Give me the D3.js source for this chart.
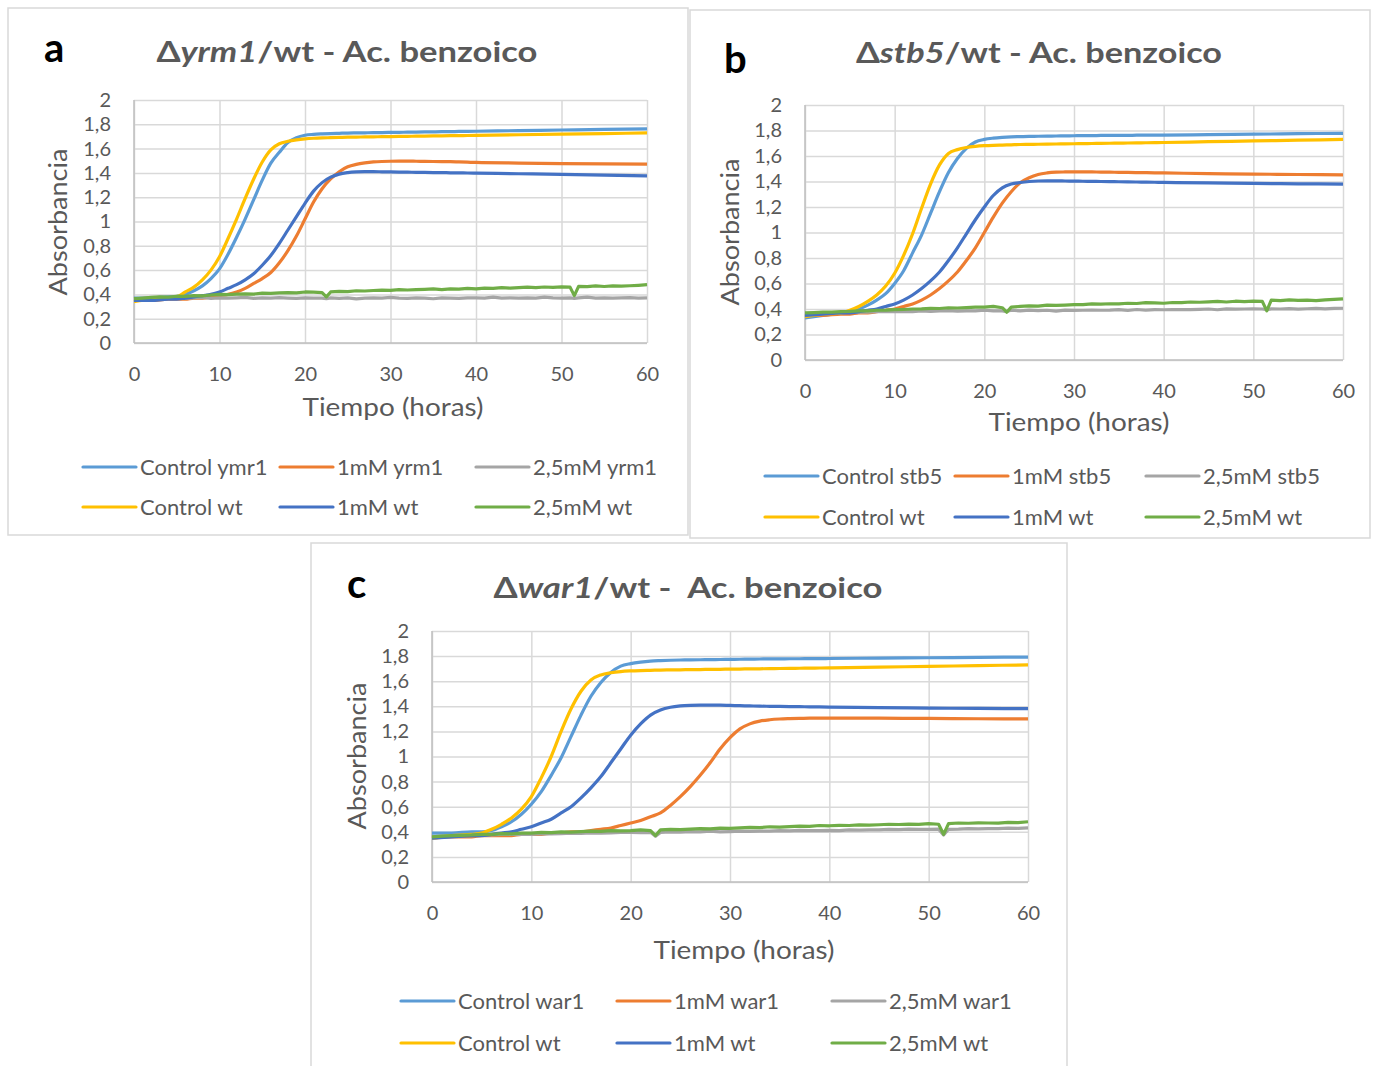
<!DOCTYPE html>
<meta charset="utf-8">
<head>
  <title>Ac. benzoico</title>
</head>
<body style="margin:0;background:#fff">
<style>
text { font-family: Lato, sans-serif; fill: #595959; }
.axis text { font-size: 20px; fill: #595959; }
.axis line { stroke: #d9d9d9; stroke-width: 1.5; }
.leg text { font-size: 22px; }
.title { font-size: 28px; font-weight: bold; white-space: pre; }
.letter { font-size: 40px; font-weight: bold; fill: #000; }
.atitle { font-size: 25px; }
</style>
<svg width="1375" height="1066"></svg>
<script src="https://d3js.org/d3.v7.min.js"></script>
<script>

// time grids (hours)
var hoursG = [0,2,4,5,6,7,8,9,10,11,12,13,14,15,16,17,18,19,20,21,22,23,24,25,26,27,28,29,30,31,32,33,34,35,36,37,38,39,40,45,50,55,60];
var hoursF = [0,1,2,3,4,5,6,7,8,9,10,11,12,13,14,15,16,17,18,19,20,21,22,22.5,23,24,25,26,27,28,29,30,31,32,33,34,35,36,37,38,39,40,41,42,43,44,45,46,47,48,49,50,51,51.5,52,53,54,55,56,57,58,59,60];

var xTicks = [0,10,20,30,40,50,60];
var yTicks = [0,0.2,0.4,0.6,0.8,1,1.2,1.4,1.6,1.8,2];

// ---- panel a : yrm1
var ctrlYrm1 = [.37,.37,.38,
  .38,.40,.43,.47,.53,.61,.73,.87,1.02,1.18,
  1.34,1.48,1.57,1.65,1.69,1.71,1.717,1.721,1.724,1.726,
  1.728,1.729,1.730,1.731,1.732,1.733,1.734,1.735,1.736,1.737,
  1.738,1.739,1.740,1.741,1.742,1.743,
  1.748,1.753,1.758,1.762];
var ctrlWtA = [.34,.36,.37,
  .38,.42,.46,.52,.60,.71,.86,1.02,1.19,1.35,
  1.49,1.59,1.64,1.66,1.672,1.680,1.685,1.688,1.690,1.692,
  1.694,1.695,1.696,1.697,1.698,1.699,1.700,1.701,1.702,1.703,
  1.704,1.705,1.706,1.707,1.708,1.709,
  1.714,1.719,1.724,1.729];
var mM1Yrm1 = [.35,.35,.36,
  .36,.36,.37,.37,.38,.39,.40,.42,.45,.49,
  .53,.58,.66,.76,.88,1.02,1.16,1.27,1.35,1.41,
  1.45,1.47,1.482,1.490,1.494,1.496,1.497,1.497,1.496,1.495,
  1.494,1.493,1.492,1.490,1.488,1.486,
  1.481,1.477,1.474,1.472];
var mM1WtA = [.35,.35,.36,
  .36,.37,.38,.39,.40,.42,.45,.48,.52,.57,
  .64,.72,.82,.93,1.04,1.15,1.25,1.32,1.365,1.39,
  1.402,1.408,1.410,1.410,1.409,1.408,1.407,1.406,1.405,1.404,
  1.403,1.402,1.401,1.400,1.399,1.398,
  1.393,1.388,1.382,1.376];
var mM25Yrm1 = [.362,.368,.371,.369,.372,.376,.369,.371,.375,.368,
  .371,.369,.372,.376,.368,.371,.369,.373,.370,.368,
  .372,.370,.369,.364,
  .371,.368,.372,.363,.370,.372,.369,.376,.370,.368,
  .371,.369,.364,.372,.370,.368,.372,.371,.369,.377,
  .370,.372,.369,.371,.370,.377,.371,.369,.372,.368,
  .371,.377,.370,.372,.369,.371,.373,.370,.372];
var mM25WtA = [.365,.370,.375,.380,.378,.385,.383,.390,.388,.395,
  .400,.398,.402,.405,.403,.410,.408,.412,.415,.413,
  .420,.418,.415,.380,
  .420,.425,.423,.430,.428,.432,.435,.433,.440,.436,
  .440,.442,.445,.440,.446,.444,.450,.446,.451,.450,
  .455,.452,.456,.460,.455,.461,.458,.462,.460,.390,
  .466,.464,.470,.465,.470,.468,.471,.475,.480];
var legendA = ["Control ymr1", "1mM yrm1", "2,5mM yrm1", "Control wt", "1mM wt", "2,5mM wt"];

// ---- panel b : stb5
var ctrlStb5 = [.33,.35,.37,
  .38,.40,.43,.47,.52,.60,.70,.84,.98,1.15,
  1.32,1.47,1.58,1.66,1.71,1.73,1.740,1.746,1.750,1.752,
  1.754,1.755,1.756,1.757,1.758,1.759,1.760,1.760,1.761,1.761,
  1.762,1.762,1.763,1.763,1.764,1.764,
  1.767,1.771,1.775,1.778];
var ctrlWtB = [.34,.36,.37,
  .39,.42,.46,.51,.58,.68,.82,.99,1.19,1.38,
  1.53,1.62,1.65,1.667,1.676,1.681,1.684,1.686,1.688,1.690,
  1.691,1.692,1.693,1.694,1.695,1.696,1.697,1.698,1.699,1.700,
  1.701,1.702,1.703,1.704,1.705,1.706,
  1.712,1.718,1.724,1.730];
var mM1Stb5 = [.35,.35,.36,
  .36,.37,.37,.38,.39,.40,.42,.44,.47,.51,
  .56,.62,.69,.78,.88,1.00,1.12,1.23,1.32,1.39,
  1.43,1.455,1.467,1.473,1.475,1.476,1.476,1.475,1.474,1.473,
  1.472,1.471,1.470,1.469,1.468,1.467,
  1.462,1.458,1.455,1.452];
var mM1WtB = [.35,.36,.37,
  .37,.38,.39,.40,.42,.44,.47,.51,.56,.62,
  .69,.78,.88,.99,1.10,1.20,1.29,1.35,1.38,1.392,
  1.400,1.404,1.405,1.405,1.404,1.403,1.402,1.401,1.400,1.399,
  1.398,1.397,1.396,1.395,1.394,1.393,
  1.389,1.385,1.382,1.380];
var mM25Stb5 = [.360,.365,.370,.372,.370,.375,.377,.375,.380,.381,
  .380,.382,.379,.385,.381,.385,.387,.384,.386,.385,
  .390,.386,.385,.380,
  .390,.385,.391,.388,.390,.384,.391,.389,.390,.392,
  .390,.391,.395,.389,.396,.391,.395,.394,.396,.395,
  .395,.397,.400,.394,.401,.399,.400,.402,.400,.395,
  .401,.400,.403,.399,.402,.405,.401,.405,.406];
var mM25WtB = [.370,.372,.375,.376,.380,.381,.385,.386,.390,.391,
  .395,.396,.400,.401,.405,.404,.410,.408,.411,.415,
  .415,.420,.410,.375,
  .415,.420,.425,.423,.430,.428,.431,.435,.434,.440,
  .438,.441,.440,.445,.443,.450,.448,.445,.451,.450,
  .455,.453,.456,.460,.455,.461,.458,.462,.460,.385,
  .470,.465,.471,.468,.470,.465,.471,.475,.480];
var legendB = ["Control stb5", "1mM stb5", "2,5mM stb5", "Control wt", "1mM wt", "2,5mM wt"];

// ---- panel c : war1
var ctrlWar1 = [.39,.39,.40,
  .40,.41,.44,.48,.54,.62,.72,.85,.99,1.16,
  1.33,1.48,1.59,1.67,1.72,1.74,1.752,1.760,1.764,1.767,
  1.769,1.770,1.771,1.772,1.773,1.774,1.775,1.776,1.777,1.778,
  1.778,1.779,1.779,1.780,1.780,1.781,
  1.784,1.787,1.790,1.792];
var ctrlWtC = [.35,.37,.38,
  .39,.42,.46,.51,.58,.68,.83,1.00,1.20,1.38,
  1.52,1.61,1.65,1.667,1.677,1.682,1.685,1.687,1.689,1.690,
  1.691,1.692,1.693,1.694,1.695,1.696,1.697,1.698,1.699,1.700,
  1.701,1.702,1.703,1.704,1.705,1.706,
  1.712,1.718,1.724,1.730];
var mM1War1 = [.35,.36,.36,
  .37,.37,.37,.37,.38,.38,.38,.39,.39,.40,
  .40,.41,.42,.43,.45,.47,.49,.52,.55,.61,
  .68,.76,.85,.95,1.06,1.15,1.22,1.26,1.282,1.293,
  1.299,1.302,1.304,1.305,1.306,1.306,
  1.305,1.303,1.301,1.300];
var mM1WtC = [.35,.36,.37,
  .37,.38,.39,.40,.42,.44,.47,.50,.55,.60,
  .67,.75,.84,.95,1.06,1.17,1.26,1.33,1.37,1.392,
  1.403,1.408,1.410,1.410,1.409,1.407,1.405,1.403,1.401,1.400,
  1.399,1.398,1.397,1.396,1.395,1.394,
  1.390,1.386,1.383,1.381];
var mM25War1 = [.360,.365,.370,.371,.370,.375,.376,.380,.379,.381,
  .380,.385,.383,.386,.390,.388,.391,.390,.392,.395,
  .395,.393,.396,.365,
  .395,.400,.398,.401,.400,.405,.400,.402,.405,.404,
  .405,.406,.410,.408,.411,.410,.409,.411,.410,.415,
  .414,.416,.415,.420,.418,.421,.419,.420,.421,.375,
  .420,.421,.425,.423,.426,.425,.430,.428,.431];
var mM25WtC = [.360,.365,.370,.372,.375,.380,.379,.385,.384,.390,
  .390,.395,.393,.400,.398,.401,.405,.403,.410,.408,
  .410,.415,.410,.370,
  .415,.420,.418,.421,.425,.423,.430,.428,.431,.435,
  .433,.440,.438,.441,.445,.443,.450,.448,.451,.450,
  .455,.453,.456,.460,.458,.461,.459,.465,.460,.380,
  .465,.470,.468,.471,.470,.469,.475,.473,.480];
var legendC = ["Control war1", "1mM war1", "2,5mM war1", "Control wt", "1mM wt", "2,5mM wt"];

var colors = ["#5B9BD5", "#ED7D31", "#A5A5A5", "#FFC000", "#4472C4", "#70AD47"];

var comma = d3.formatLocale({decimal: ",", thousands: ".", grouping: [3], currency: ["", ""]}).format("~g");

var svg = d3.select("svg");

function drawPanel(p) {
  var g = svg.append("g");

  g.append("rect")
    .attr("x", p.frame[0]).attr("y", p.frame[1])
    .attr("width", p.frame[2]).attr("height", p.frame[3])
    .attr("fill", "#fff").attr("stroke", "#d9d9d9").attr("stroke-width", 1.5);

  var x = d3.scaleLinear().domain([0, 60]).range([p.left, p.right]),
      y = d3.scaleLinear().domain([0, 2]).range([p.bottom, p.top]);

  g.append("g").attr("class", "axis")
    .attr("transform", "translate(" + p.left + ",0)")
    .call(d3.axisLeft(y).tickValues(yTicks).tickSize(-(p.right - p.left)).tickPadding(23).tickFormat(comma))
    .call(function(s) { s.select(".domain").remove(); });

  g.append("g").attr("class", "axis")
    .attr("transform", "translate(0," + p.bottom + ")")
    .call(d3.axisBottom(x).tickValues(xTicks).tickSize(-(p.bottom - p.top)).tickPadding(24))
    .call(function(s) { s.select(".domain").remove(); });

  // axis base lines
  g.append("line").attr("x1", p.left).attr("x2", p.right).attr("y1", p.bottom).attr("y2", p.bottom)
    .attr("stroke", "#bfbfbf").attr("stroke-width", 1.5);
  g.append("line").attr("x1", p.left).attr("x2", p.left).attr("y1", p.top).attr("y2", p.bottom)
    .attr("stroke", "#bfbfbf").attr("stroke-width", 1.5);

  var smooth = d3.line().curve(d3.curveMonotoneX)
      .x(function(d) { return x(d[0]); }).y(function(d) { return y(d[1]); });
  var rough = d3.line()
      .x(function(d) { return x(d[0]); }).y(function(d) { return y(d[1]); });

  p.series.forEach(function(vals, i) {
    var t = vals.length === hoursG.length ? hoursG : hoursF;
    g.append("path")
      .datum(t.map(function(h, j) { return [h, vals[j]]; }))
      .attr("d", t === hoursG ? smooth : rough)
      .attr("fill", "none")
      .attr("stroke", colors[i])
      .attr("stroke-width", 3.2)
      .attr("stroke-linejoin", "round");
  });

  // titles
  var tt = g.append("text").attr("class", "title")
    .attr("x", p.titleX).attr("y", p.titleY).attr("text-anchor", "middle")
    .attr("textLength", p.titleW).attr("lengthAdjust", "spacingAndGlyphs");
  tt.append("tspan").text("Δ");
  tt.append("tspan").style("font-style", "italic").text(p.gene);
  tt.append("tspan").text(p.titleRest);

  g.append("text").attr("class", "letter")
    .attr("x", p.letter[0]).attr("y", p.letter[1]).text(p.letterText);

  g.append("text").attr("class", "atitle")
    .attr("x", p.xTitleX).attr("y", p.xTitleY)
    .attr("text-anchor", "middle")
    .attr("textLength", 181).attr("lengthAdjust", "spacingAndGlyphs")
    .text("Tiempo (horas)");

  g.append("text").attr("class", "atitle")
    .attr("transform", "translate(" + p.yTitleX + "," + p.yTitleY + ") rotate(-90)")
    .attr("text-anchor", "middle")
    .attr("textLength", 147).attr("lengthAdjust", "spacingAndGlyphs")
    .text("Absorbancia");

  // legend
  var leg = g.append("g").attr("class", "leg");
  p.labels.forEach(function(lab, i) {
    var col = i % 3, row = Math.floor(i / 3),
        lx = p.legX[col], ly = p.legY[row];
    leg.append("line").attr("x1", lx).attr("x2", lx + 53).attr("y1", ly).attr("y2", ly)
      .attr("stroke", colors[i]).attr("stroke-width", 3.2).attr("stroke-linecap", "round");
    leg.append("text").attr("x", lx + 57).attr("y", ly).attr("dy", "0.35em").text(lab);
  });
}

drawPanel({
  frame: [8, 8, 680, 527], left: 134, right: 647, top: 100, bottom: 343,
  titleX: 347, titleY: 62, titleW: 381, gene: "yrm1", titleRest: "/wt - Ac. benzoico",
  letter: [44, 62], letterText: "a",
  xTitleX: 393, xTitleY: 416, yTitleX: 67, yTitleY: 222,
  legX: [83, 280, 476], legY: [467, 507], labels: legendA,
  series: [ctrlYrm1, mM1Yrm1, mM25Yrm1, ctrlWtA, mM1WtA, mM25WtA]
});

drawPanel({
  frame: [690, 10, 680, 528], left: 805, right: 1343, top: 105, bottom: 360,
  titleX: 1039, titleY: 63, titleW: 366, gene: "stb5", titleRest: "/wt - Ac. benzoico",
  letter: [724, 73], letterText: "b",
  xTitleX: 1079, xTitleY: 431, yTitleX: 739, yTitleY: 232,
  legX: [765, 955, 1146], legY: [476, 517], labels: legendB,
  series: [ctrlStb5, mM1Stb5, mM25Stb5, ctrlWtB, mM1WtB, mM25WtB]
});

drawPanel({
  frame: [311, 543, 756, 530], left: 432, right: 1028, top: 631, bottom: 882,
  titleX: 688, titleY: 598, titleW: 389, gene: "war1", titleRest: "/wt -  Ac. benzoico",
  letter: [347, 598], letterText: "c",
  xTitleX: 744, xTitleY: 959, yTitleX: 366, yTitleY: 756,
  legX: [401, 617, 832], legY: [1001, 1043], labels: legendC,
  series: [ctrlWar1, mM1War1, mM25War1, ctrlWtC, mM1WtC, mM25WtC]
});

</script>
</body>
</html>
